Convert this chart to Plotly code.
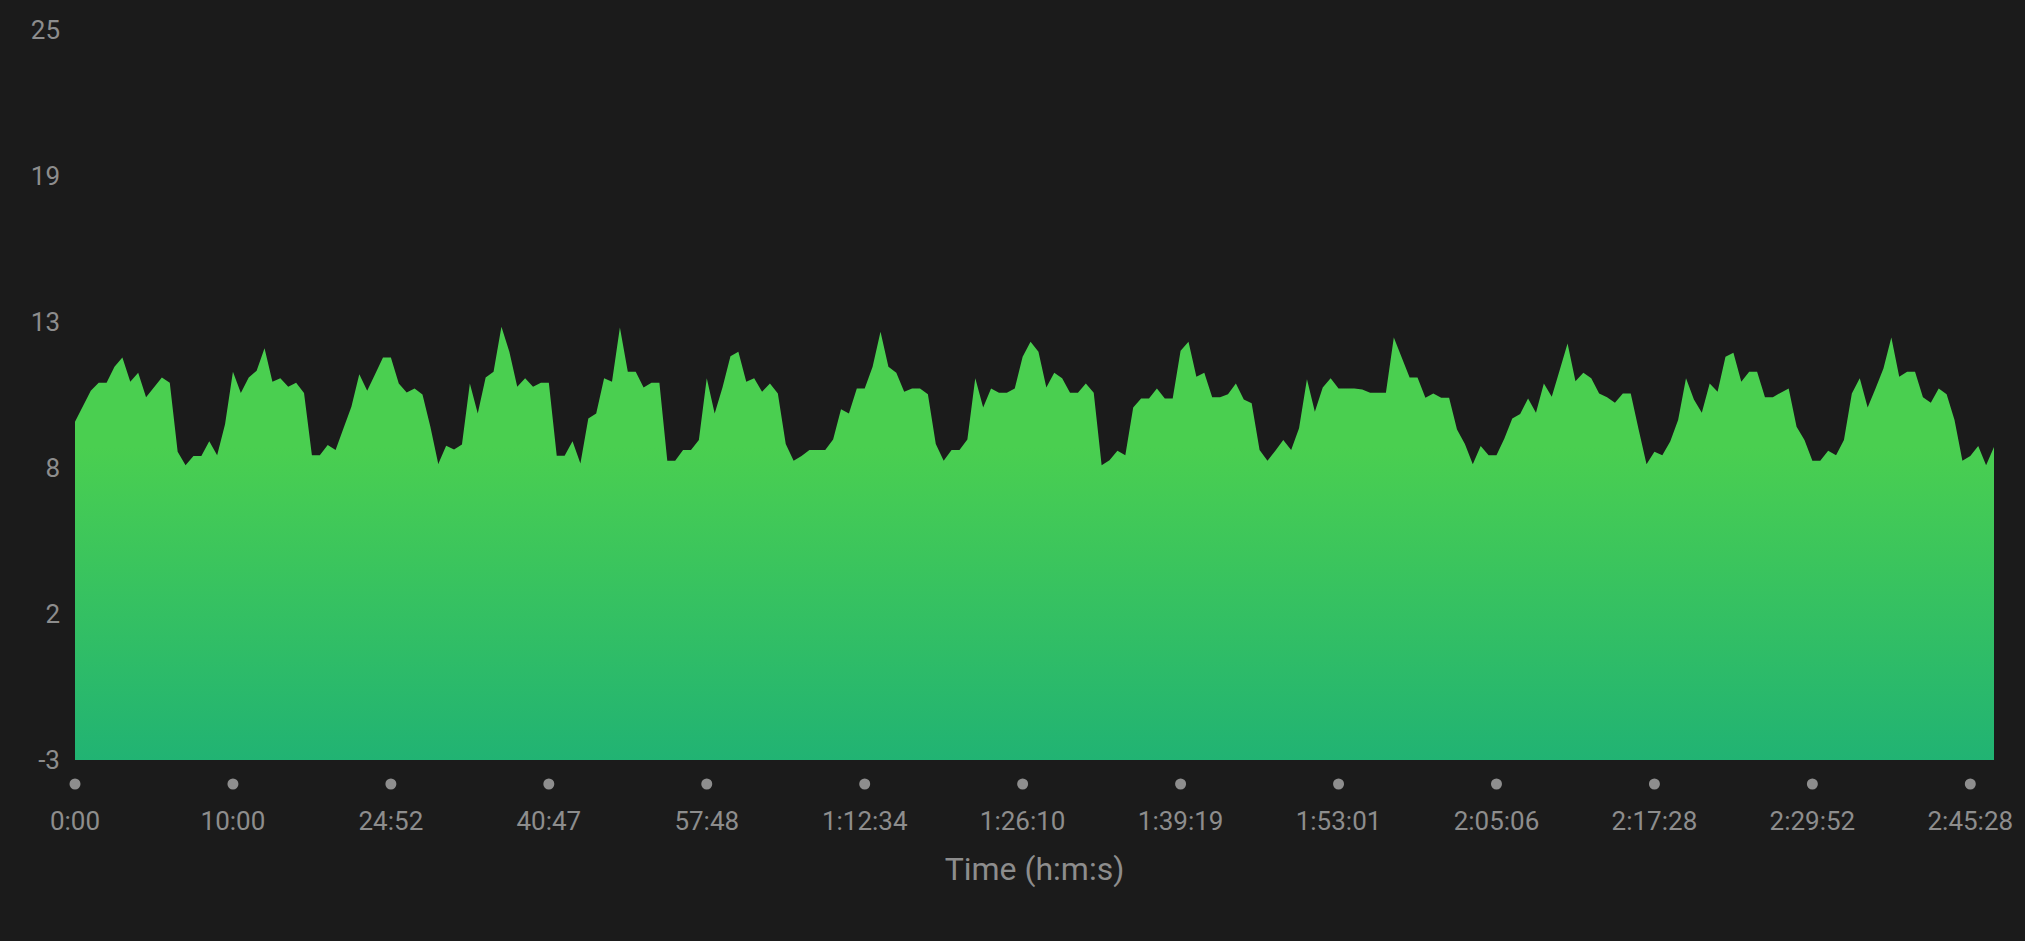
import plotly.graph_objects as go

# ---- data ----
values = [
    9.97, 10.57, 11.16, 11.47, 11.47, 12.08, 12.44, 11.51, 11.85, 10.91,
    11.29, 11.67, 11.47, 8.82, 8.31, 8.66, 8.66, 9.23, 8.69, 9.88,
    11.89, 11.08, 11.67, 11.93, 12.79, 11.51, 11.64, 11.32, 11.47, 11.08,
    8.69, 8.69, 9.08, 8.89, 9.72, 10.55, 11.80, 11.16, 11.80, 12.44,
    12.44, 11.44, 11.10, 11.25, 11.02, 9.78, 8.35, 9.05, 8.91, 9.10,
    11.44, 10.29, 11.67, 11.89, 13.62, 12.66, 11.32, 11.64, 11.32, 11.47,
    11.47, 8.67, 8.67, 9.23, 8.37, 10.10, 10.29, 11.64, 11.51, 13.59,
    11.89, 11.89, 11.29, 11.47, 11.47, 8.48, 8.48, 8.89, 8.89, 9.27,
    11.64, 10.29, 11.30, 12.49, 12.66, 11.51, 11.64, 11.12, 11.44, 11.06,
    9.12, 8.48, 8.66, 8.89, 8.89, 8.89, 9.29, 10.45, 10.29, 11.25,
    11.25, 12.08, 13.43, 12.08, 11.85, 11.12, 11.25, 11.25, 11.03, 9.12,
    8.48, 8.89, 8.89, 9.29, 11.64, 10.52, 11.25, 11.09, 11.09, 11.25,
    12.47, 13.04, 12.66, 11.29, 11.85, 11.64, 11.09, 11.09, 11.44, 11.09,
    8.31, 8.50, 8.86, 8.69, 10.52, 10.87, 10.87, 11.25, 10.87, 10.87,
    12.70, 13.04, 11.70, 11.85, 10.91, 10.91, 11.03, 11.44, 10.83, 10.68,
    8.89, 8.48, 8.86, 9.27, 8.89, 9.72, 11.60, 10.36, 11.29, 11.64,
    11.25, 11.25, 11.25, 11.21, 11.09, 11.09, 11.09, 13.21, 12.47, 11.67,
    11.67, 10.89, 11.06, 10.89, 10.89, 9.68, 9.12, 8.34, 9.04, 8.69,
    8.69, 9.33, 10.10, 10.27, 10.87, 10.32, 11.44, 10.93, 11.95, 12.98,
    11.53, 11.85, 11.64, 11.06, 10.91, 10.70, 11.06, 11.06, 9.68, 8.34,
    8.82, 8.69, 9.22, 10.04, 11.64, 10.83, 10.32, 11.44, 11.12, 12.47,
    12.62, 11.51, 11.89, 11.89, 10.91, 10.91, 11.09, 11.25, 9.78, 9.27,
    8.48, 8.48, 8.86, 8.69, 9.27, 11.06, 11.64, 10.52, 11.25, 12.02,
    13.21, 11.70, 11.89, 11.89, 10.91, 10.70, 11.25, 11.03, 10.04, 8.48,
    8.66, 9.04, 8.31, 9.01,
]
x_tick_labels = ["0:00", "10:00", "24:52", "40:47", "57:48", "1:12:34", "1:26:10",
                 "1:39:19", "1:53:01", "2:05:06", "2:17:28", "2:29:52", "2:45:28"]
x_tick_index = [0, 20, 40, 60, 80, 100, 120, 140, 160, 180, 200, 220, 240]
y_tick_vals = [-3, 2.6, 8.2, 13.8, 19.4, 25]
y_tick_labels = ["-3", "2", "8", "13", "19", "25"]
Y_MIN, Y_MAX = -3, 25

BG = "#1b1b1b"
TXT = "#8d8d8d"
DOT = "#8e8e8e"
FONT = "Roboto"

idx = list(range(len(values)))
X_MAX = len(values) - 1

W, H = 2025, 941
ML, MR, MT, MB = 75, 31, 30, 181

fig = go.Figure()
fig.add_trace(go.Scatter(x=idx, y=[Y_MIN] * len(idx), mode="lines",
                         line=dict(width=0), hoverinfo="skip", showlegend=False))
fig.add_trace(go.Scatter(
    x=idx, y=values, mode="lines", fill="tonexty",
    line=dict(width=0, color="#4ccf50"),
    fillgradient=dict(type="vertical", start=Y_MIN, stop=9,
                      colorscale=[[0, "#21b373"], [1, "#4acf50"]]),
    showlegend=False,
))

# dot markers under each x tick (paper-referenced so they are not clipped)
for xi in x_tick_index:
    fig.add_shape(type="circle", xref="paper", yref="paper",
                  xsizemode="pixel", ysizemode="pixel",
                  xanchor=xi / X_MAX, yanchor=0,
                  x0=-5.5, x1=5.5, y0=-24 - 5.5, y1=-24 + 5.5,
                  fillcolor=DOT, line=dict(width=0), layer="above")

fig.update_layout(
    width=W, height=H,
    paper_bgcolor=BG, plot_bgcolor=BG,
    margin=dict(l=ML, r=MR, t=MT, b=MB),
    font=dict(family=FONT, color=TXT, size=26),
    xaxis=dict(
        range=[0, X_MAX], showgrid=False, zeroline=False, showline=False,
        tickmode="array", tickvals=x_tick_index, ticktext=x_tick_labels,
        ticks="", ticklabelstandoff=43,
        tickfont=dict(family=FONT, size=26, color=TXT),
        title=dict(text="Time (h:m:s)", font=dict(family=FONT, size=32, color=TXT),
                   standoff=22),
    ),
    yaxis=dict(
        range=[Y_MIN, Y_MAX], showgrid=False, zeroline=False, showline=False,
        tickmode="array", tickvals=y_tick_vals, ticktext=y_tick_labels,
        ticks="", ticklabelstandoff=14,
        tickfont=dict(family=FONT, size=26, color=TXT),
    ),
)

fig.write_html(
    "out.html",
    config={"displayModeBar": False},
    post_script="document.body.style.margin='0';document.body.style.background='#1b1b1b';",
)
